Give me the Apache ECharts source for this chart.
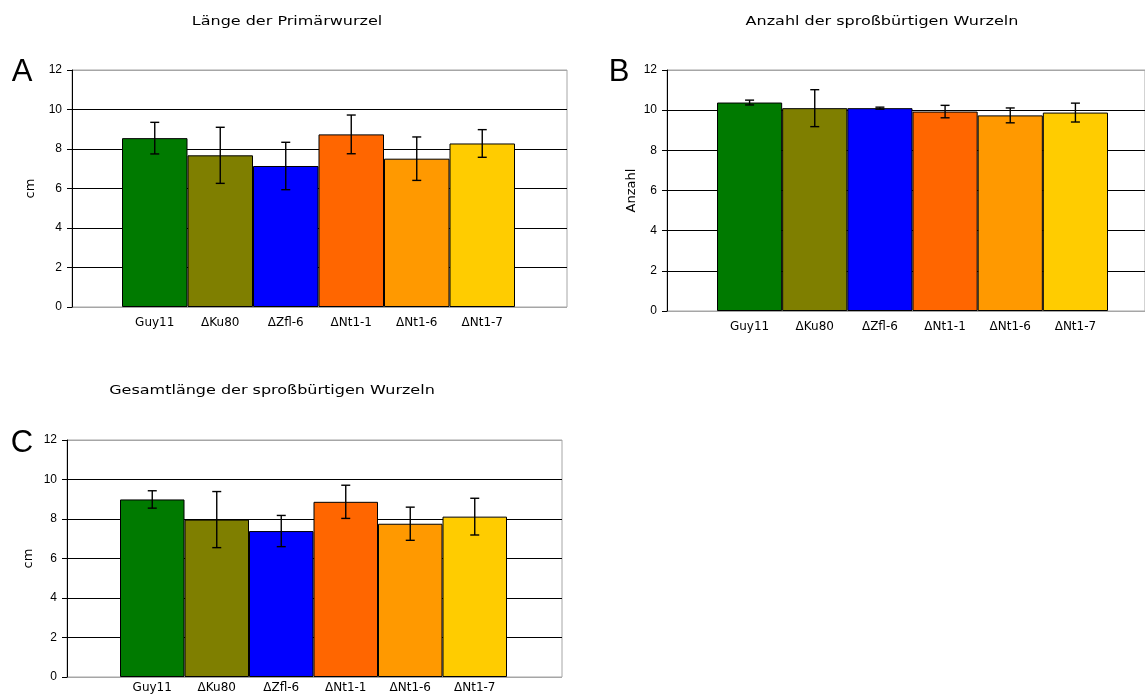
<!DOCTYPE html>
<html>
<head>
<meta charset="utf-8">
<script src="https://cdn.jsdelivr.net/npm/echarts@6/dist/echarts.min.js"></script>
<style>
  html, body { margin: 0; padding: 0; background: #fff; }
  #chart { width: 1145px; height: 695px; }
</style>
</head>
<body>
<div id="chart"></div>
<script>
// Strains, shared by all three panels
const strains = ['Guy11', '\u0394Ku80', '\u0394Zfl-6', '\u0394Nt1-1', '\u0394Nt1-6', '\u0394Nt1-7'];
const strainColors = ['#007a00', '#7f7f00', '#0000ff', '#ff6600', '#ff9900', '#ffcc00'];

// Panel A: length of the primary root (cm), mean and standard deviation
const primaryLength = [8.55, 7.68, 7.14, 8.74, 7.51, 8.28];
const primaryLengthSd = [0.80, 1.42, 1.20, 0.98, 1.10, 0.70];

// Panel B: number of shoot-borne roots
const rootCount = [10.38, 10.10, 10.10, 9.93, 9.74, 9.88];
const rootCountSd = [0.12, 0.92, 0.05, 0.31, 0.37, 0.47];

// Panel C: total length of shoot-borne roots (cm)
const totalLength = [8.99, 7.97, 7.39, 8.87, 7.76, 8.12];
const totalLengthSd = [0.44, 1.42, 0.79, 0.84, 0.84, 0.93];

const yTicks = { min: 0, max: 12, interval: 2 };

const FONT = 'DejaVu Sans';

const panels = [
  { letter: 'A', title: 'L\u00e4nge der Prim\u00e4rwurzel', unit: 'cm',
    values: primaryLength, sd: primaryLengthSd,
    outer: { left: 72, top: 70, width: 495, height: 237 },
    inner: { left: 122, width: 393 },
    titlePos: [287, 22], letterPos: [22, 72], labelMargin: 10, nameGap: 35 },
  { letter: 'B', title: 'Anzahl der spro\u00dfb\u00fcrtigen Wurzeln', unit: 'Anzahl',
    values: rootCount, sd: rootCountSd,
    outer: { left: 667, top: 70, width: 495, height: 241 },
    inner: { left: 717, width: 391 },
    titlePos: [882, 22], letterPos: [619, 72], labelMargin: 10, nameGap: 29 },
  { letter: 'C', title: 'Gesamtl\u00e4nge der spro\u00dfb\u00fcrtigen Wurzeln', unit: 'cm',
    values: totalLength, sd: totalLengthSd,
    outer: { left: 67, top: 440, width: 495, height: 237 },
    inner: { left: 120, width: 387 },
    titlePos: [272, 391], letterPos: [22, 443], labelMargin: 5, nameGap: 32 }
];

const grid = [], xAxis = [], yAxis = [], series = [], graphic = [];

panels.forEach((p) => {
  const gOuter = grid.length;
  grid.push({
    left: p.outer.left, top: p.outer.top, width: p.outer.width, height: p.outer.height,
    show: true, borderColor: '#a6a6a6', borderWidth: 1, backgroundColor: '#fff'
  });
  const gInner = grid.length;
  grid.push({
    left: p.inner.left, top: p.outer.top, width: p.inner.width, height: p.outer.height
  });

  // outer frame: value axis with horizontal gridlines
  xAxis.push({ gridIndex: gOuter, type: 'value', min: 0, max: 1, show: false });
  yAxis.push({
    gridIndex: gOuter, type: 'value', min: yTicks.min, max: yTicks.max, interval: yTicks.interval,
    name: p.unit, nameLocation: 'middle', nameRotate: 90, nameGap: p.nameGap,
    nameTextStyle: { fontFamily: FONT, fontSize: 13, color: '#000' },
    axisLine: { show: true, lineStyle: { color: '#000', width: 1 } },
    axisTick: { show: true, length: 5, lineStyle: { color: '#000' } },
    axisLabel: { fontFamily: 'Liberation Sans', fontSize: 12, color: '#000', margin: 10 },
    splitLine: { show: true, lineStyle: {
      color: ['#a6a6a6', '#000', '#000', '#000', '#000', '#000', '#a6a6a6'], width: 1 } }
  });

  // inner area: one category per strain, bars touching each other
  const xi = xAxis.length;
  xAxis.push({
    gridIndex: gInner, type: 'category', data: strains,
    axisLine: { show: false }, axisTick: { show: false },
    axisLabel: { fontFamily: FONT, fontSize: 12, color: '#000', margin: p.labelMargin }
  });
  const yi = yAxis.length;
  yAxis.push({ gridIndex: gInner, type: 'value', min: yTicks.min, max: yTicks.max,
    interval: yTicks.interval, show: false, splitLine: { show: false } });

  series.push({
    type: 'bar', xAxisIndex: xi, yAxisIndex: yi,
    barCategoryGap: '0%',
    data: p.values.map((v, i) => ({
      value: v,
      itemStyle: { color: strainColors[i], borderColor: '#000', borderWidth: 1 }
    })),
    silent: true, z: 3
  });

  // error bars (mean ± sd)
  series.push({
    type: 'custom', xAxisIndex: xi, yAxisIndex: yi, z: 5, silent: true,
    data: p.values.map((v, i) => [i, v, p.sd[i]]),
    renderItem: (params, api) => {
      const i = api.value(0), m = api.value(1), s = api.value(2);
      const hi = api.coord([i, m + s]);
      const lo = api.coord([i, m - s]);
      const cap = 4.5;
      const st = { stroke: '#000', lineWidth: 1.4 };
      return {
        type: 'group',
        children: [
          { type: 'line', shape: { x1: hi[0], y1: hi[1], x2: lo[0], y2: lo[1] }, style: st },
          { type: 'line', shape: { x1: hi[0] - cap, y1: hi[1], x2: hi[0] + cap, y2: hi[1] }, style: st },
          { type: 'line', shape: { x1: lo[0] - cap, y1: lo[1], x2: lo[0] + cap, y2: lo[1] }, style: st }
        ]
      };
    },
    encode: { x: 0, y: 1 }
  });

  // panel heading, drawn with a wide letter form
  graphic.push({
    type: 'text', x: p.titlePos[0], y: p.titlePos[1], scaleX: 1.28,
    style: { text: p.title, fontFamily: FONT, fontSize: 12.5, fill: '#000',
      textAlign: 'center', textVerticalAlign: 'middle' }
  });
  graphic.push({
    type: 'text', x: p.letterPos[0], y: p.letterPos[1],
    style: { text: p.letter, fontFamily: 'Liberation Sans', fontSize: 31, fill: '#000',
      textAlign: 'center', textVerticalAlign: 'middle' }
  });
});

const chart = echarts.init(document.getElementById('chart'), null, { renderer: 'canvas' });
chart.setOption({
  animation: false,
  backgroundColor: '#fff',
  grid, xAxis, yAxis, series, graphic
});
</script>
</body>
</html>
